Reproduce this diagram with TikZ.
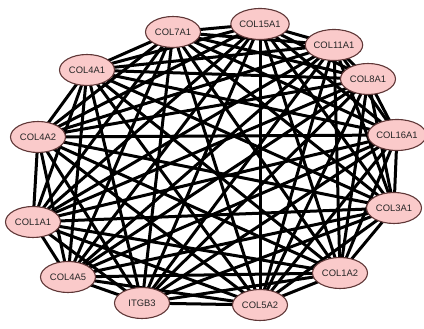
\documentclass[tikz,border=0pt]{standalone}
\usepackage{fontspec}
\setmainfont{Liberation Sans}
\usetikzlibrary{shapes.geometric}
\pgfdeclarelayer{bg}
\pgfsetlayers{bg,main}
\definecolor{nodefill}{RGB}{250,202,202}
\definecolor{nodeedge}{RGB}{95,55,55}
\tikzset{
  gene/.style={ellipse, draw=nodeedge, fill=nodefill, line width=1.1pt,
    minimum width=55pt, minimum height=31pt, inner sep=0pt,
    font=\fontsize{9.4pt}{10pt}\selectfont, text=black!85},
  link/.style={line width=3pt, black}
}
\begin{document}
\begin{tikzpicture}[x=1pt,y=-1pt]
\useasboundingbox (0,0) rectangle (424,329);
\foreach \n/\x/\y in {COL7A1/173/32, COL15A1/260/24, COL11A1/334/45, COL8A1/368/79,
  COL16A1/397/135, COL3A1/394/208, COL1A2/340/273, COL5A2/260/305, ITGB3/142/303,
  COL4A5/68/277, COL1A1/33/222, COL4A2/38/137, COL4A1/87/70}
  \node[gene] (\n) at (\x,\y) {\n};
\begin{pgfonlayer}{bg}
\foreach \a [count=\i] in {COL7A1,COL15A1,COL11A1,COL8A1,COL16A1,COL3A1,COL1A2,COL5A2,ITGB3,COL4A5,COL1A1,COL4A2,COL4A1}{
  \foreach \b [count=\j] in {COL7A1,COL15A1,COL11A1,COL8A1,COL16A1,COL3A1,COL1A2,COL5A2,ITGB3,COL4A5,COL1A1,COL4A2,COL4A1}{
    \ifnum\j>\i \draw[link] (\a.center) -- (\b.center); \fi
  }
}
\end{pgfonlayer}
\end{tikzpicture}
\end{document}
